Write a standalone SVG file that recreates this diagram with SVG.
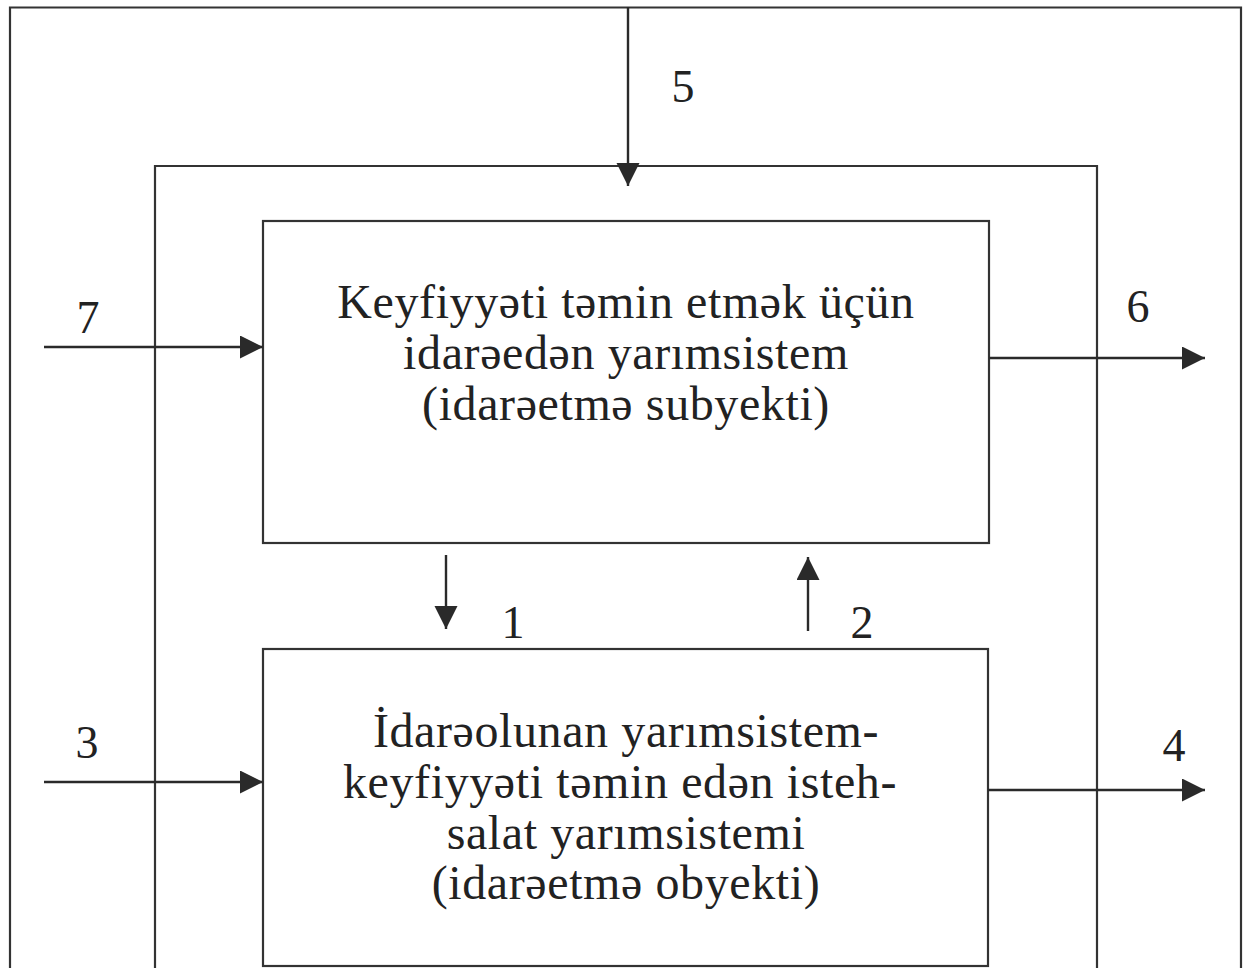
<svg xmlns="http://www.w3.org/2000/svg" width="1248" height="968" viewBox="0 0 1248 968">
  <defs>
    <marker id="ah" markerUnits="userSpaceOnUse" markerWidth="24" markerHeight="24" refX="23" refY="11.5" orient="auto">
      <path d="M0,0 L23,11.5 L0,23 Z" fill="#2a2a2a"/>
    </marker>
    <style>
      .frame { fill: none; stroke: #333; stroke-width: 2.2; }
      .box { fill: #fff; stroke: #333; stroke-width: 2.2; }
      .conn { fill: none; stroke: #2a2a2a; stroke-width: 2.4; marker-end: url(#ah); }
      .txt { font-family: "Liberation Serif", "Times New Roman", serif; font-size: 48px; fill: #222; text-anchor: middle; letter-spacing: 0.6px; }
      .num { font-family: "Liberation Serif", "Times New Roman", serif; font-size: 46px; fill: #222; text-anchor: middle; }
    </style>
  </defs>
  <rect width="1248" height="968" fill="#fff"/>

  <g id="outer-frame">
    <path class="frame" d="M10,970 L10,7.5 L1241,7.5 L1241,970"/>
  </g>
  <g id="middle-frame">
    <path class="frame" d="M155,970 L155,166 L1097,166 L1097,970"/>
  </g>

  <g id="node-subject">
    <rect class="box" x="263" y="221" width="726" height="322"/>
    <text class="txt" x="626" y="318">Keyfiyyəti təmin etmək üçün</text>
    <text class="txt" x="626" y="369">idarəedən yarımsistem</text>
    <text class="txt" x="626" y="420">(idarəetmə subyekti)</text>
  </g>

  <g id="node-object">
    <rect class="box" x="263" y="649" width="725" height="317"/>
    <text class="txt" x="626" y="747">İdarəolunan yarımsistem-</text>
    <text class="txt" x="620" y="798">keyfiyyəti təmin edən isteh-</text>
    <text class="txt" x="626" y="849">salat yarımsistemi</text>
    <text class="txt" x="626" y="899">(idarəetmə obyekti)</text>
  </g>

  <g id="connectors">
    <line class="conn" x1="628" y1="7" x2="628" y2="186"/>
    <line class="conn" x1="44" y1="347" x2="263" y2="347"/>
    <line class="conn" x1="989" y1="358" x2="1205" y2="358"/>
    <line class="conn" x1="446" y1="555" x2="446" y2="629"/>
    <line class="conn" x1="808" y1="631" x2="808" y2="557"/>
    <line class="conn" x1="44" y1="782" x2="263" y2="782"/>
    <line class="conn" x1="988" y1="790" x2="1205" y2="790"/>
  </g>

  <g id="labels">
    <text class="num" x="683" y="102">5</text>
    <text class="num" x="88" y="333">7</text>
    <text class="num" x="1138" y="322">6</text>
    <text class="num" x="513" y="638">1</text>
    <text class="num" x="862" y="638">2</text>
    <text class="num" x="87" y="758">3</text>
    <text class="num" x="1174" y="761">4</text>
  </g>
</svg>
